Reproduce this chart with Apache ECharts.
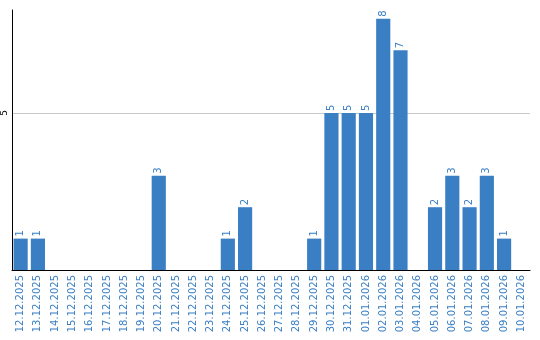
<!DOCTYPE html>
<html><head><meta charset="utf-8">
<script src="https://cdn.jsdelivr.net/npm/echarts@6/dist/echarts.min.js"></script>
<style>html,body{margin:0;padding:0;background:#fff}#c{width:540px;height:340px}</style>
</head><body><div id="c"></div>
<script>
const categories = ["12.12.2025","13.12.2025","14.12.2025","15.12.2025","16.12.2025","17.12.2025","18.12.2025","19.12.2025","20.12.2025","21.12.2025","22.12.2025","23.12.2025","24.12.2025","25.12.2025","26.12.2025","27.12.2025","28.12.2025","29.12.2025","30.12.2025","31.12.2025","01.01.2026","02.01.2026","03.01.2026","04.01.2026","05.01.2026","06.01.2026","07.01.2026","08.01.2026","09.01.2026","10.01.2026"];
const values = [1,1,0,0,0,0,0,0,3,0,0,0,1,2,0,0,0,1,5,5,5,8,7,0,2,3,2,3,1,0];
const yTicks = [5];
const chart = echarts.init(document.getElementById('c'));
chart.setOption({
  animation:false,
  grid:{left:10,right:10,top:10,bottom:70,containLabel:false},
  xAxis:{type:'category',data:categories,
    axisLine:{lineStyle:{color:'#000',width:1}},
    axisTick:{show:false},
    axisLabel:{rotate:90,interval:0,color:'#3a7fc4',fontSize:10,fontFamily:'DejaVu Sans',margin:5}},
  yAxis:{type:'value',min:0,max:8.28,interval:5,
    axisLine:{show:true,lineStyle:{color:'#000',width:1}},
    axisTick:{show:false},
    splitLine:{show:true,showMinLine:false,showMaxLine:false,lineStyle:{color:'#c8c8c8',width:1}},
    axisLabel:{rotate:90,color:'#000',fontSize:9,fontFamily:'DejaVu Sans',margin:3,
      formatter:v=>yTicks.includes(v)?String(v):''}},
  series:[{type:'bar',data:values,barCategoryGap:'18%',
    itemStyle:{color:'#3a7fc4'},
    label:{show:true,position:'top',rotate:90,align:'left',verticalAlign:'middle',distance:2,
      color:'#3a7fc4',fontSize:10,fontFamily:'DejaVu Sans',
      formatter:p=>p.value>0?String(p.value):''}}]
});
</script></body></html>
